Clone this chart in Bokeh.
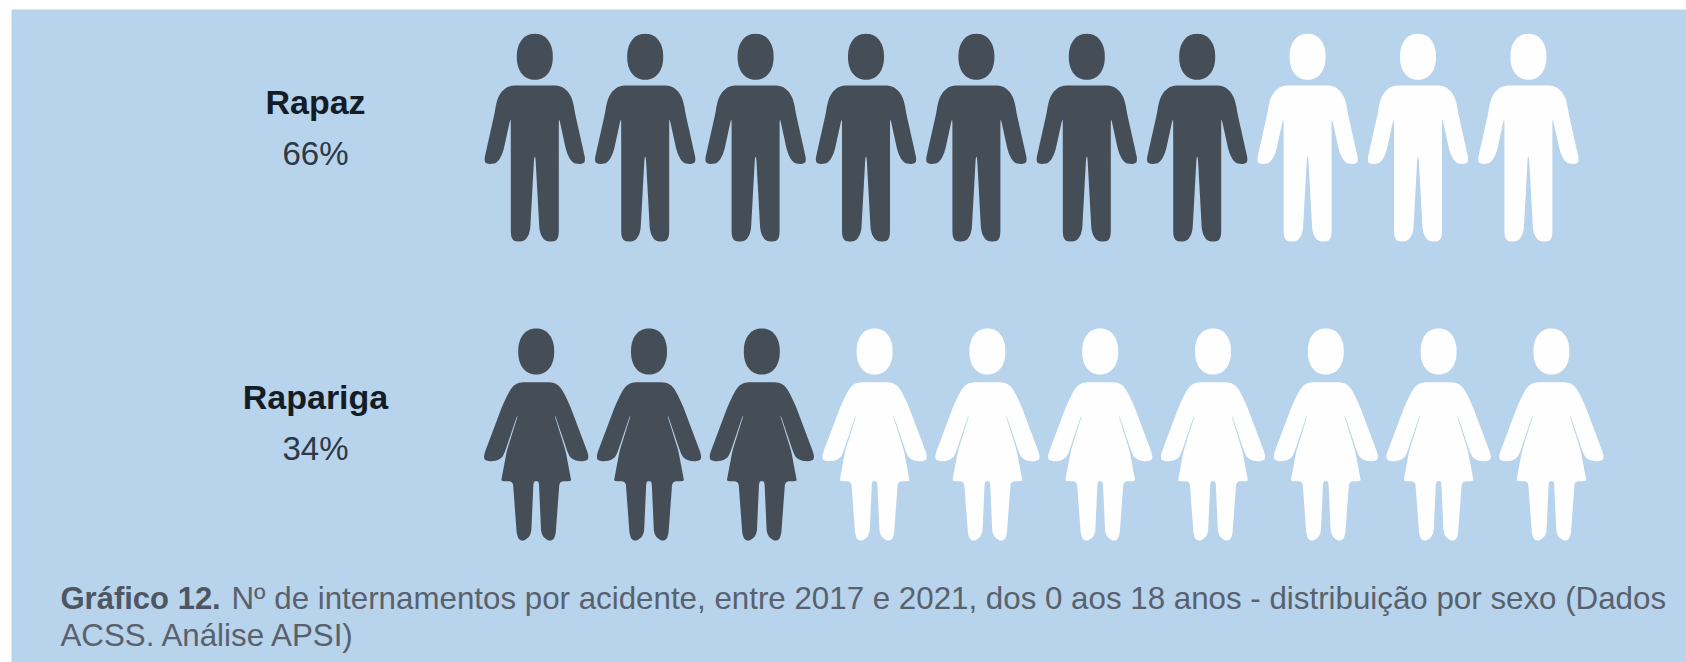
import numpy as np
from bokeh.plotting import figure
from bokeh.embed import file_html
from bokeh.resources import INLINE
from bokeh.models import Range1d
from bokeh.core.properties import value

# Data
categories = ["Rapaz", "Rapariga"]
percentages = [66, 34]
dark_icons = [7, 3]
icon_total = 10
caption_bold = "Gráfico 12."
caption_line1 = "Nº de internamentos por acidente, entre 2017 e 2021, dos 0 aos 18 anos - distribuição por sexo (Dados"
caption_line2 = "ACSS. Análise APSI)"

# Colours
BG = "#b8d3ec"
DARK = "#454d57"
LIGHT = "#fefefe"

# Icon outlines (half-outline from the top centre, in thirds of a pixel, mirrored below)
man_dx = [0, 72, 92, 108, 116, 121, 148, 152, 146, 125, 110, 100, 94, 74, 72, 72, 69, 60, 35, 22, 14, 2, 0]
man_dy = [195, 195, 205, 225, 250, 280, 400, 420, 430, 431, 424, 405, 390, 298, 298, 640, 655, 663, 663, 652, 630, 412, 408]
woman_dx = [0, 42, 60, 75, 87, 102, 154, 158, 150, 125, 108, 98, 90, 57, 55, 88, 104, 105, 70, 58, 48, 28, 15, 8, 0]
woman_dy = [200, 200, 204, 218, 240, 272, 410, 428, 437, 437, 431, 420, 398, 300, 300, 405, 490, 497, 497, 660, 678, 672, 655, 497, 497]
icon_scale = 1 / 3


def mirrored(dx, dy):
    return list(dx) + [-v for v in reversed(dx)], list(dy) + list(reversed(dy))


def round_corners(xs, ys, cuts=(7, 3.5)):
    """Soften polygon corners by cutting each by a small fixed distance."""
    pts = np.column_stack([xs, ys]).astype(float)
    for d in cuts:
        out = []
        n = len(pts)
        for i in range(n):
            a, b, c = pts[i - 1], pts[i], pts[(i + 1) % n]
            for other in (a, c):
                length = np.hypot(*(other - b))
                if length > 0:
                    out.append(b + (other - b) * min(d, length / 3) / length)
        pts = np.array(out)
    return list(pts[:, 0]), list(pts[:, 1])


def head_outline(w, h, n=2.2):
    t = np.linspace(0, 2 * np.pi, 73)
    return (w / 2 * np.sign(np.cos(t)) * np.abs(np.cos(t)) ** (2 / n),
            h / 2 * np.sign(np.sin(t)) * np.abs(np.sin(t)) ** (2 / n))


rows = [
    dict(cx0=534.3, step=110.4, y0=20.0, outline=round_corners(*mirrored(man_dx, man_dy)),
         head_y=56.3, label_y=101.5, pct_y=153),
    dict(cx0=535.7, step=112.8, y0=315.0, outline=round_corners(*mirrored(woman_dx, woman_dy)),
         head_y=351.0, label_y=396.5, pct_y=448),
]
label_x = 315

p = figure(width=1686, height=662, x_range=Range1d(0, 1686), y_range=Range1d(662, 0),
           output_backend="svg", toolbar_location=None, min_border=0,
           background_fill_color="white", border_fill_color="white", outline_line_color=None)
p.axis.visible = False
p.grid.visible = False

p.quad(left=[11], right=[1686], top=[9], bottom=[662], fill_color=BG, line_color=None)

hx, hy = head_outline(36.0, 46.0)
for name, pct, n_dark, r in zip(categories, percentages, dark_icons, rows):
    centers = [r["cx0"] + i * r["step"] for i in range(icon_total)]
    colors = [DARK if i < n_dark else LIGHT for i in range(icon_total)]
    xs = [[c + v * icon_scale for v in r["outline"][0]] for c in centers]
    ys = [[r["y0"] + v * icon_scale for v in r["outline"][1]] for _ in centers]
    p.patches(xs, ys, fill_color=colors, line_color=None)
    p.patches([list(c + hx) for c in centers], [list(r["head_y"] + hy) for _ in centers],
              fill_color=colors, line_color=None)
    p.text(x=[label_x], y=[r["label_y"]], text=[name], text_font=value("Liberation Sans"),
           text_font_style="bold", text_font_size="34px", text_color="#141c26",
           text_align="center", text_baseline="alphabetic")
    p.text(x=[label_x], y=[r["pct_y"]], text=[f"{pct}%"], text_font=value("Liberation Sans"),
           text_font_size="33px", text_color="#2d3945",
           text_align="center", text_baseline="alphabetic")

p.text(x=[60], y=[597.5], text=[caption_bold], text_font=value("Liberation Sans"), text_font_style="bold",
       text_font_size="31px", text_color="#4d5661", text_baseline="alphabetic")
p.text(x=[231], y=[597.5], text=[caption_line1], text_font=value("Liberation Sans"),
       text_font_size="31.3px", text_color="#59616c", text_baseline="alphabetic")
p.text(x=[60], y=[634.5], text=[caption_line2], text_font=value("Liberation Sans"),
       text_font_size="31.3px", text_color="#59616c", text_baseline="alphabetic")

open("out.html", "w").write(file_html(p, INLINE))
